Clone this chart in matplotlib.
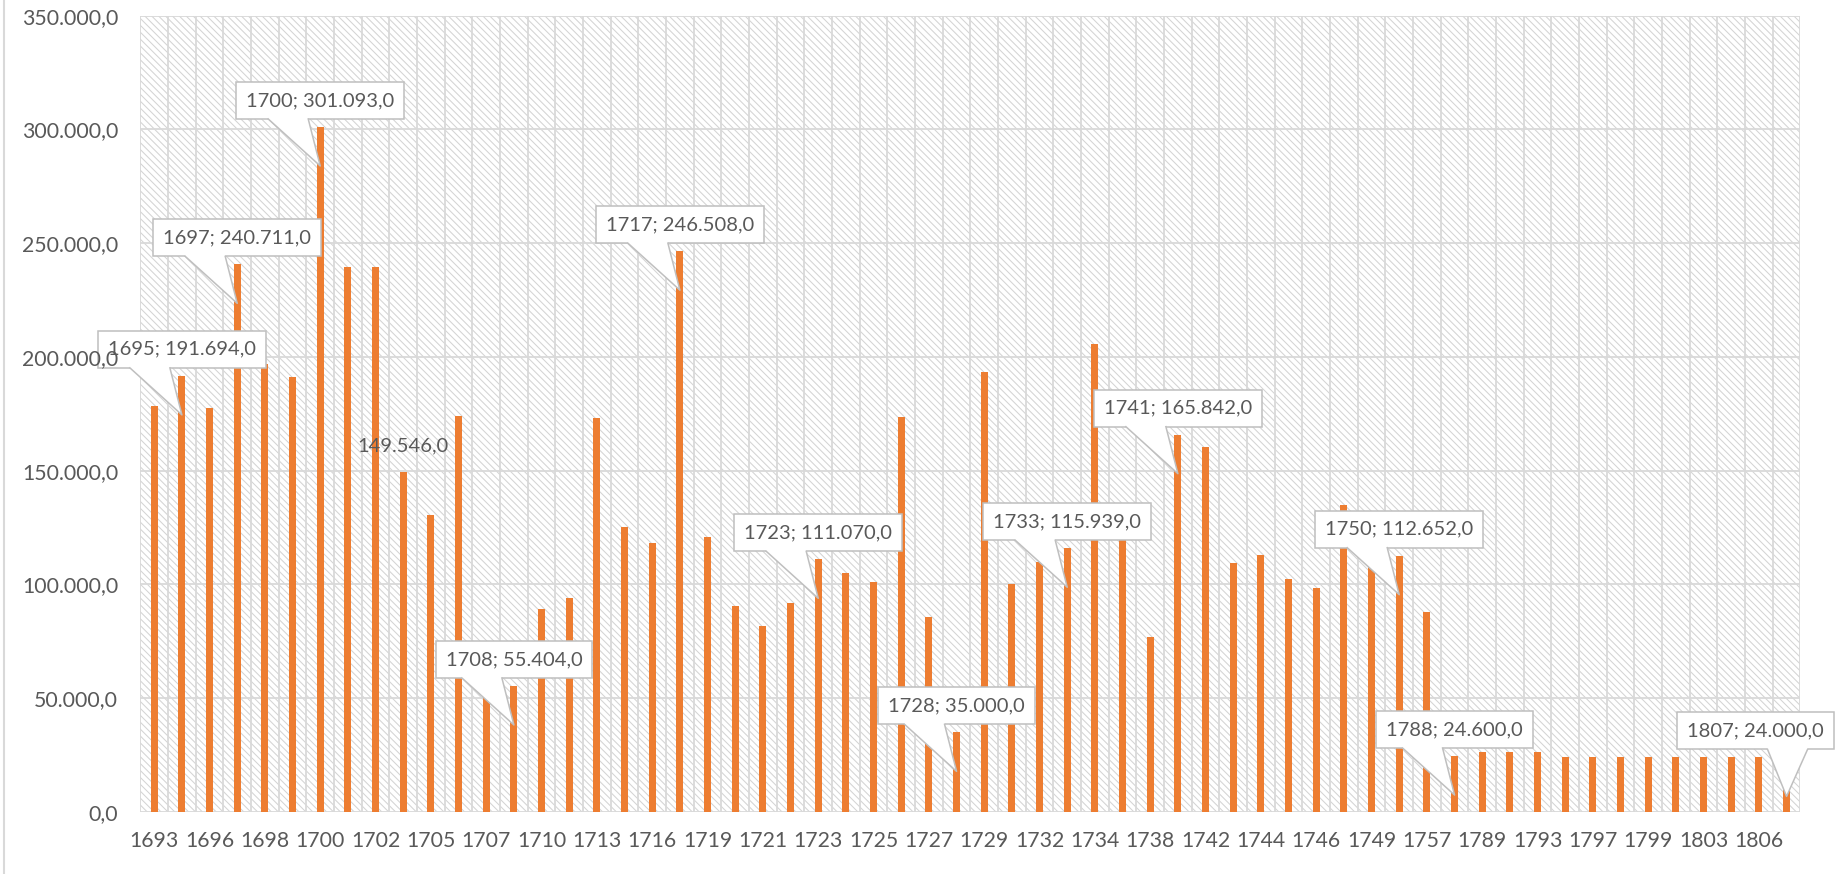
import matplotlib
matplotlib.use("Agg")
import matplotlib.pyplot as plt
import matplotlib.transforms as mtransforms
from matplotlib.patches import Polygon, Rectangle
from matplotlib.collections import LineCollection
from matplotlib.lines import Line2D
import numpy as np

# data (one bar per year)
years = [1693, 1695, 1696, 1697, 1698, 1699, 1700, 1701, 1702, 1704,
         1705, 1706, 1707, 1708, 1710, 1711, 1713, 1715, 1716, 1717,
         1719, 1720, 1721, 1722, 1723, 1724, 1725, 1726, 1727, 1728,
         1729, 1731, 1732, 1733, 1734, 1737, 1738, 1741, 1742, 1743,
         1744, 1745, 1746, 1748, 1749, 1750, 1757, 1788, 1789, 1791,
         1793, 1795, 1797, 1798, 1799, 1801, 1803, 1805, 1806, 1807]
values = [178500, 191694, 177700, 240711, 197000, 191000, 301093, 239500, 239500, 149546,
          130500, 174000, 50000, 55404, 89200, 94100, 173000, 125100, 118300, 246508,
          121000, 90700, 81900, 91900, 111070, 105100, 101200, 173500, 85500, 35000,
          193600, 100200, 110000, 115939, 205800, 125000, 77000, 165842, 160600, 109500,
          112900, 102200, 98500, 134900, 108000, 112652, 87700, 24600, 26400, 26400,
          26400, 24000, 24000, 24000, 24000, 24000, 24000, 24000, 24000, 24000]

callout_years = [1695, 1697, 1700, 1708, 1717, 1723, 1728, 1733, 1741, 1750, 1788, 1807]
plain_label_years = [1704]

ORANGE = "#ED7D31"
GRID = "#D9D9D9"
TEXT = "#595959"
BORDER = "#BFBFBF"

plt.rcParams['font.family'] = ['Lato', 'DejaVu Sans']


def fmt(v):
    s = f"{v:,.1f}"
    return s.replace(",", "X").replace(".", ",").replace("X", ".")


W, H = 1837, 874
fig = plt.figure(figsize=(W / 100, H / 100), dpi=100)
ax_left, ax_right, ax_top, ax_bottom = 140.4, 1800.4, 15.7, 812.0
ax = fig.add_axes([ax_left / W, 1 - ax_bottom / H,
                   (ax_right - ax_left) / W, (ax_bottom - ax_top) / H])

x = np.arange(len(years))
ax.bar(x, values, width=0.25, color=ORANGE, zorder=2)
ax.set_xlim(-0.5, len(years) - 0.5)
ax.set_ylim(0, 350000)

# hatched background
wpx, hpx = ax_right - ax_left, ax_bottom - ax_top
step = 6.9 / wpx
slope = hpx / wpx
starts = np.arange(-slope, 1 + step, step)
segs = [[(s, 1), (s + slope, 0)] for s in starts]
ax.add_collection(LineCollection(segs, transform=ax.transAxes, colors="#D4D4D4",
                                 linewidths=0.75, zorder=0.5))

# grid
for yv in np.arange(0, 350001, 50000):
    ax.axhline(yv, color=GRID, lw=1.3, zorder=1)
for xv in np.arange(-0.5, len(years), 1.0):
    ax.axvline(xv, color=GRID, lw=1.3, zorder=1)

for sp in ax.spines.values():
    sp.set_visible(False)

ax.set_xticks(x[::2])
ax.set_xticklabels([str(y) for y in years[::2]])
ax.set_yticks(np.arange(0, 350001, 50000))
ax.set_yticklabels([fmt(v) for v in np.arange(0, 350001, 50000)])
ax.tick_params(axis='x', length=0, pad=14, labelsize=15.3, colors=TEXT)
ax.tick_params(axis='y', length=0, pad=16, labelsize=15.3, colors=TEXT)
ax.yaxis.set_zorder(7)

renderer = fig.canvas.get_renderer()


def callout(i, shift=0, flip=False):
    xv, yv = x[i], values[i]
    tr = mtransforms.Affine2D() + mtransforms.ScaledTranslation(xv, yv, ax.transData)
    label = f"{years[i]}; {fmt(yv)}"
    t = ax.text(shift, 26.5, label, transform=tr, ha='center', va='center',
                fontsize=14.5, color=TEXT, zorder=6, clip_on=False)
    w = t.get_window_extent(renderer).width + 20
    ax.add_patch(Rectangle((shift - w / 2, 8), w, 37, transform=tr, fc='white',
                           ec=BORDER, lw=1.1, zorder=5, clip_on=False))
    if flip:
        b0, b1 = shift + 12, shift + 52
    else:
        b0, b1 = shift - 52, shift - 12
    ax.add_patch(Polygon([(b0, 9.5), (b1, 9.5), (b1, 8), (0, -39), (b0, 8)],
                         closed=True, transform=tr, fc='white', ec='none',
                         zorder=5.1, clip_on=False))
    ax.add_line(Line2D([b0, 0, b1], [8, -39, 8], transform=tr, color=BORDER,
                       lw=1.1, zorder=5.2, clip_on=False))


for yr in callout_years:
    i = years.index(yr)
    if yr == years[-1]:
        callout(i, shift=-31, flip=True)
    else:
        callout(i)

for yr in plain_label_years:
    i = years.index(yr)
    tr = mtransforms.Affine2D() + mtransforms.ScaledTranslation(x[i], values[i], ax.transData)
    ax.text(0, 26, fmt(values[i]), transform=tr, ha='center', va='center',
            fontsize=14.5, color=TEXT, zorder=6, clip_on=False)

fig.add_artist(Line2D([4 / W, 4 / W], [0, 1], transform=fig.transFigure,
                      color=GRID, lw=1.5))

fig.savefig("out.png", dpi=100)
